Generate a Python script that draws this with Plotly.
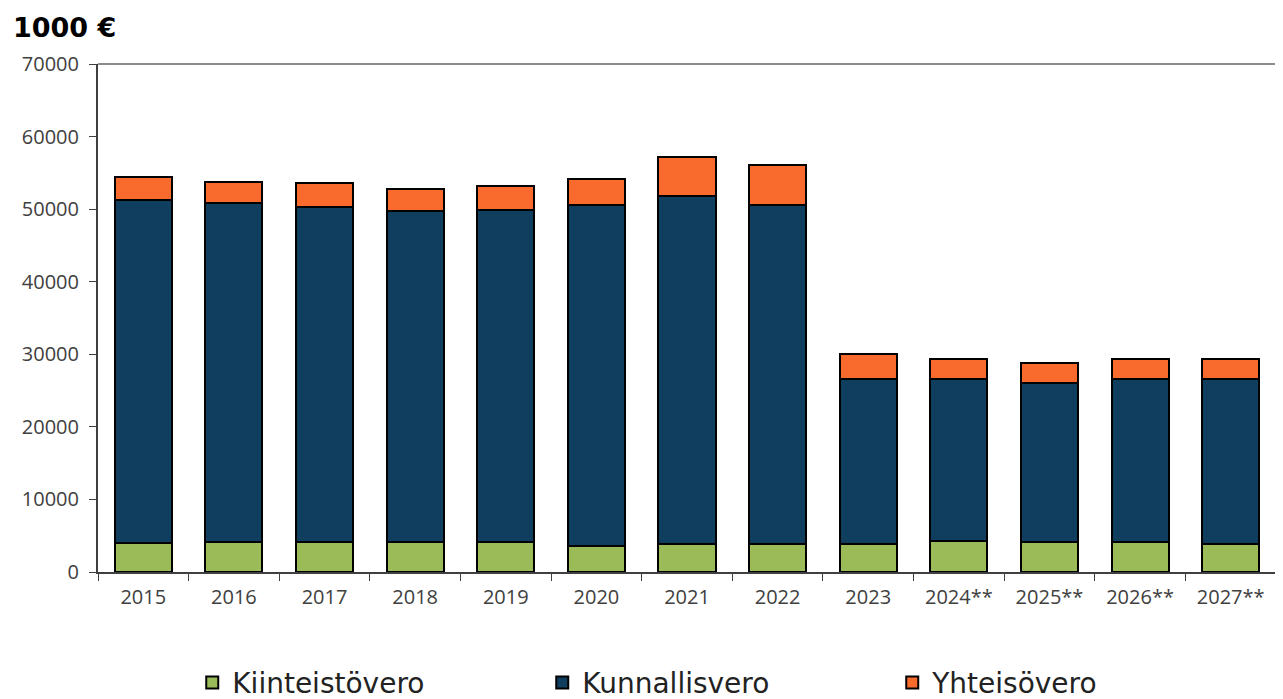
import plotly.graph_objects as go

years = ["2015", "2016", "2017", "2018", "2019", "2020", "2021", "2022", "2023",
         "2024**", "2025**", "2026**", "2027**"]
kiinteistovero = [3960, 4150, 4150, 4150, 4150, 3550, 3900, 3900, 3900, 4240, 4150, 4150, 3900]
kunnallisvero = [47270, 46630, 46080, 45530, 45710, 46990, 47880, 46640, 22710, 22370, 21950, 22460, 22710]
yhteisovero = [3200, 2930, 3430, 3110, 3340, 3580, 5460, 5600, 3440, 2750, 2750, 2750, 2750]

y_ticks = [0, 10000, 20000, 30000, 40000, 50000, 60000, 70000]

series = [
    ("Kiinteistövero", kiinteistovero, "#9BBB59"),
    ("Kunnallisvero", kunnallisvero, "#0F3E5F"),
    ("Yhteisövero", yhteisovero, "#F96B2C"),
]

fig = go.Figure()
for name, vals, color in series:
    fig.add_trace(go.Bar(
        x=years, y=vals, name=name,
        marker=dict(color=color, line=dict(color="#000000", width=2)),
    ))

# page body adds an 8px margin; figure size/margins compensate
fig.update_layout(
    width=1275, height=691,
    barmode="stack", bargap=0.37,
    plot_bgcolor="white", paper_bgcolor="white",
    margin=dict(l=90, r=7, t=56, b=127, autoexpand=False),
    font=dict(family="Open Sans", color="#404040"),
    legend=dict(
        orientation="h", xref="paper", x=0.08, xanchor="left",
        yref="paper", y=-0.218, yanchor="middle",
        entrywidth=305, entrywidthmode="pixels",
        font=dict(size=28, color="#222222", family="DejaVu Sans"),
        traceorder="normal",
    ),
    showlegend=True,
    annotations=[dict(
        text="<b>1000 €</b>", xref="paper", yref="paper", x=-0.0735, y=1.072,
        xanchor="left", yanchor="middle", showarrow=False,
        font=dict(size=27, family="DejaVu Sans", color="#000000"),
    )],
    shapes=[
        dict(type="line", xref="paper", yref="paper", x0=0, x1=1, y0=1, y1=1,
             line=dict(color="#8C8C8C", width=2)),
        dict(type="line", xref="paper", yref="paper", x0=1, x1=1, y0=0, y1=1,
             line=dict(color="#8C8C8C", width=2)),
    ],
)

fig.update_xaxes(
    showline=True, linecolor="#404040", linewidth=2,
    ticks="outside", ticklen=7, tickcolor="#404040", tickwidth=1,
    tickson="boundaries", showgrid=False, tickangle=0,
    tickfont=dict(size=20, color="#404040"), ticklabelstandoff=6,
)
fig.update_yaxes(
    range=[0, 70000], tickvals=y_ticks, tickformat="d", showgrid=False, zeroline=False,
    showline=True, linecolor="#404040", linewidth=2,
    ticks="outside", ticklen=7, tickcolor="#404040", tickwidth=1,
    tickfont=dict(size=20, color="#404040"), ticklabelstandoff=6,
)

fig.write_html("out.html")
